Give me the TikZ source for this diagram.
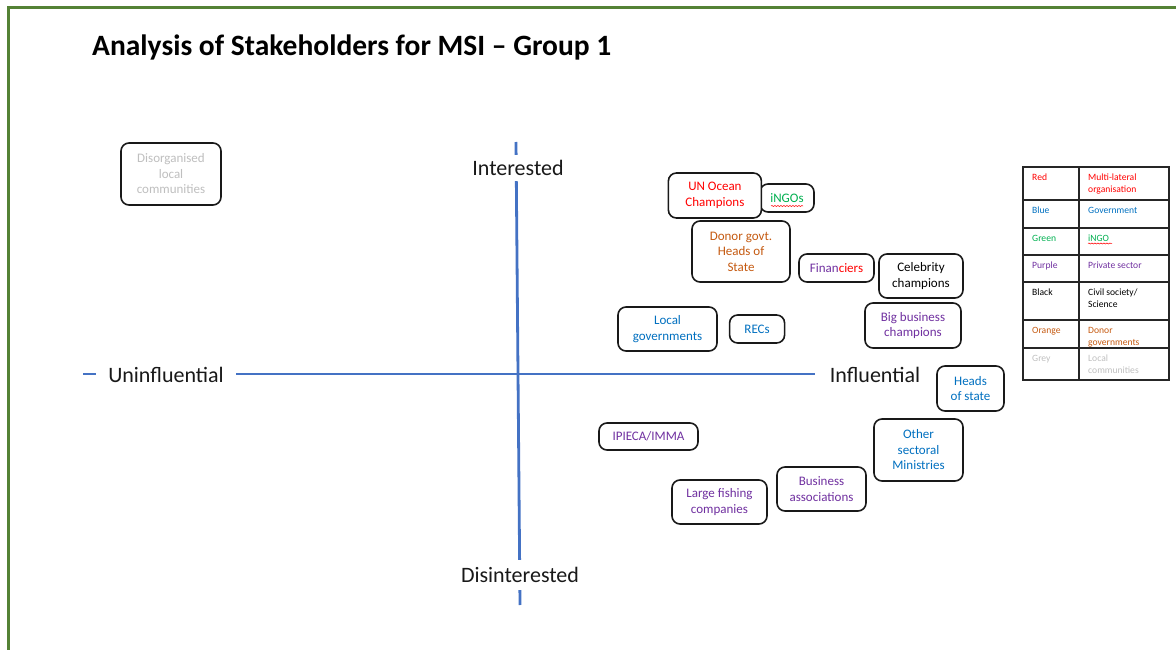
\documentclass[tikz,border=0pt]{standalone}
\usepackage{fontspec}
\setmainfont{Carlito}
\usetikzlibrary{positioning, decorations.pathmorphing}
\definecolor{framegreen}{RGB}{84,130,53}
\definecolor{axisblue}{RGB}{68,114,196}
\definecolor{shred}{RGB}{255,0,0}
\definecolor{shblue}{RGB}{0,112,192}
\definecolor{shgreen}{RGB}{0,176,80}
\definecolor{shpurple}{RGB}{112,48,160}
\definecolor{shorange}{RGB}{197,90,17}
\definecolor{shgrey}{RGB}{191,191,191}
\newcommand{\boxfont}{\fontsize{13}{15.5}\selectfont}
\newcommand{\keyfont}{\fontsize{9.6}{12}\selectfont}
\tikzset{
	stake/.style={draw=black!90, line width=1.6pt, rounded corners=8pt, fill=white, align=center, font=\boxfont, inner sep=2pt},
	axis/.style={draw=axisblue, line width=2.8pt},
	axlabel/.style={fill=white, text=black!90, font=\fontsize{22}{26}\selectfont},
	keycell/.style={anchor=north west, align=left, font=\keyfont, inner sep=0pt},
	squiggle/.style={draw=shred, line width=0.5pt, decorate, decoration={snake, amplitude=0.5pt, segment length=3pt}},
}

\begin{document}
\begin{tikzpicture}[x=1pt, y=-1pt]
	\useasboundingbox (0,0) rectangle (1176,650);
	\draw[framegreen, line width=3pt] (8,652) -- (8,8) -- (1178,8);
	
	\node[anchor=west, inner sep=0pt, font=\fontsize{29.5}{34}\bfseries] (title) at (92,47) {Analysis of Stakeholders for MSI -- Group 1};
	
	\coordinate (ytop) at (516,142);
	\coordinate (ybot) at (520,605);
	\coordinate (xleft) at (83,374);
	\coordinate (xright) at (815,374);
	\draw[axis] (ytop) -- (ybot);
	\draw[axis] (xleft) -- (xright);
	
	\node[axlabel, inner ysep=5pt] (int) at (518,168) {Interested};
	\node[axlabel, inner ysep=7pt] (disint) at (520,575) {Disinterested};
	\node[axlabel, inner xsep=12pt] (uninf) at (166,375) {Uninfluential};
	\node[axlabel] (inf) at (875,375) {Influential};
	
	\node[stake, minimum width=100, minimum height=62, text=shgrey] (disorg) at (171,174) {Disorganised\\local\\communities};
	\node[stake, minimum width=54, minimum height=28, text=shgreen] (ingo) at (787,198) {iNGOs};
	\node[stake, minimum width=93, minimum height=45, text=shred, left=-3pt of ingo, yshift=2.5pt] (unoc) {UN Ocean\\Champions};
	\node[stake, minimum width=98, minimum height=61, text=shorange] (donor) at (741,251.5) {Donor govt.\\Heads of\\State};
	\node[stake, minimum width=75, minimum height=28] (finan) at (836.5,268) {{\color{shpurple}Finan}{\color{shred}ciers}};
	\node[stake, minimum width=84, minimum height=44] (celeb) at (921,276) {Celebrity\\champions};
	\node[stake, minimum width=99, minimum height=44, text=shblue] (localgov) at (667.5,329) {Local\\governments};
	\node[stake, minimum width=55, minimum height=28, text=shblue, right=11pt of localgov] (recs) {RECs};
	\node[stake, minimum width=96, minimum height=45, text=shpurple] (bigbiz) at (913,325.5) {Big business\\champions};
	\node[stake, minimum width=67, minimum height=45, text=shblue] (heads) at (970.5,388.5) {Heads\\of state};
	\node[stake, minimum width=99, minimum height=27, text=shpurple] (ipieca) at (648.5,436.5) {IPIECA/IMMA};
	\node[stake, minimum width=89, minimum height=62, text=shblue] (othermin) at (918.5,450) {Other\\sectoral\\Ministries};
	\node[stake, minimum width=89, minimum height=44, text=shpurple] (busassoc) at (821.5,489) {Business\\associations};
	\node[stake, minimum width=95, minimum height=44, text=shpurple] (fishing) at (719.5,502) {Large fishing\\companies};
	\draw[squiggle] (771,206) -- (803,206);
	
	\draw[line width=1.4pt, black!85] (1023,167) rectangle (1169,380);
	\draw[line width=1.4pt, black!85] (1079,167) -- (1079,380);
	\foreach \y in {200,228,255,282,320,348}
		\draw[line width=1.4pt, black!85] (1023,\y) -- (1169,\y);
	\foreach \y/\c/\a/\b in {167/shred/Red/{Multi-lateral\\organisation}, 200/shblue/Blue/Government, 228/shgreen/Green/iNGO, 255/shpurple/Purple/Private sector, 282/black/Black/{Civil society/\\Science}, 320/shorange/Orange/{Donor\\governments}, 348/shgrey/Grey/{Local\\communities}} {
		\node[keycell, text=\c] (key\a) at (1032,\y+7) {\a};
		\node[keycell, text=\c] (val\a) at (1088,\y+7) {\b};
	}
	\draw[squiggle] (1088,243.5) -- (1112,243.5);
\end{tikzpicture}
\end{document}
